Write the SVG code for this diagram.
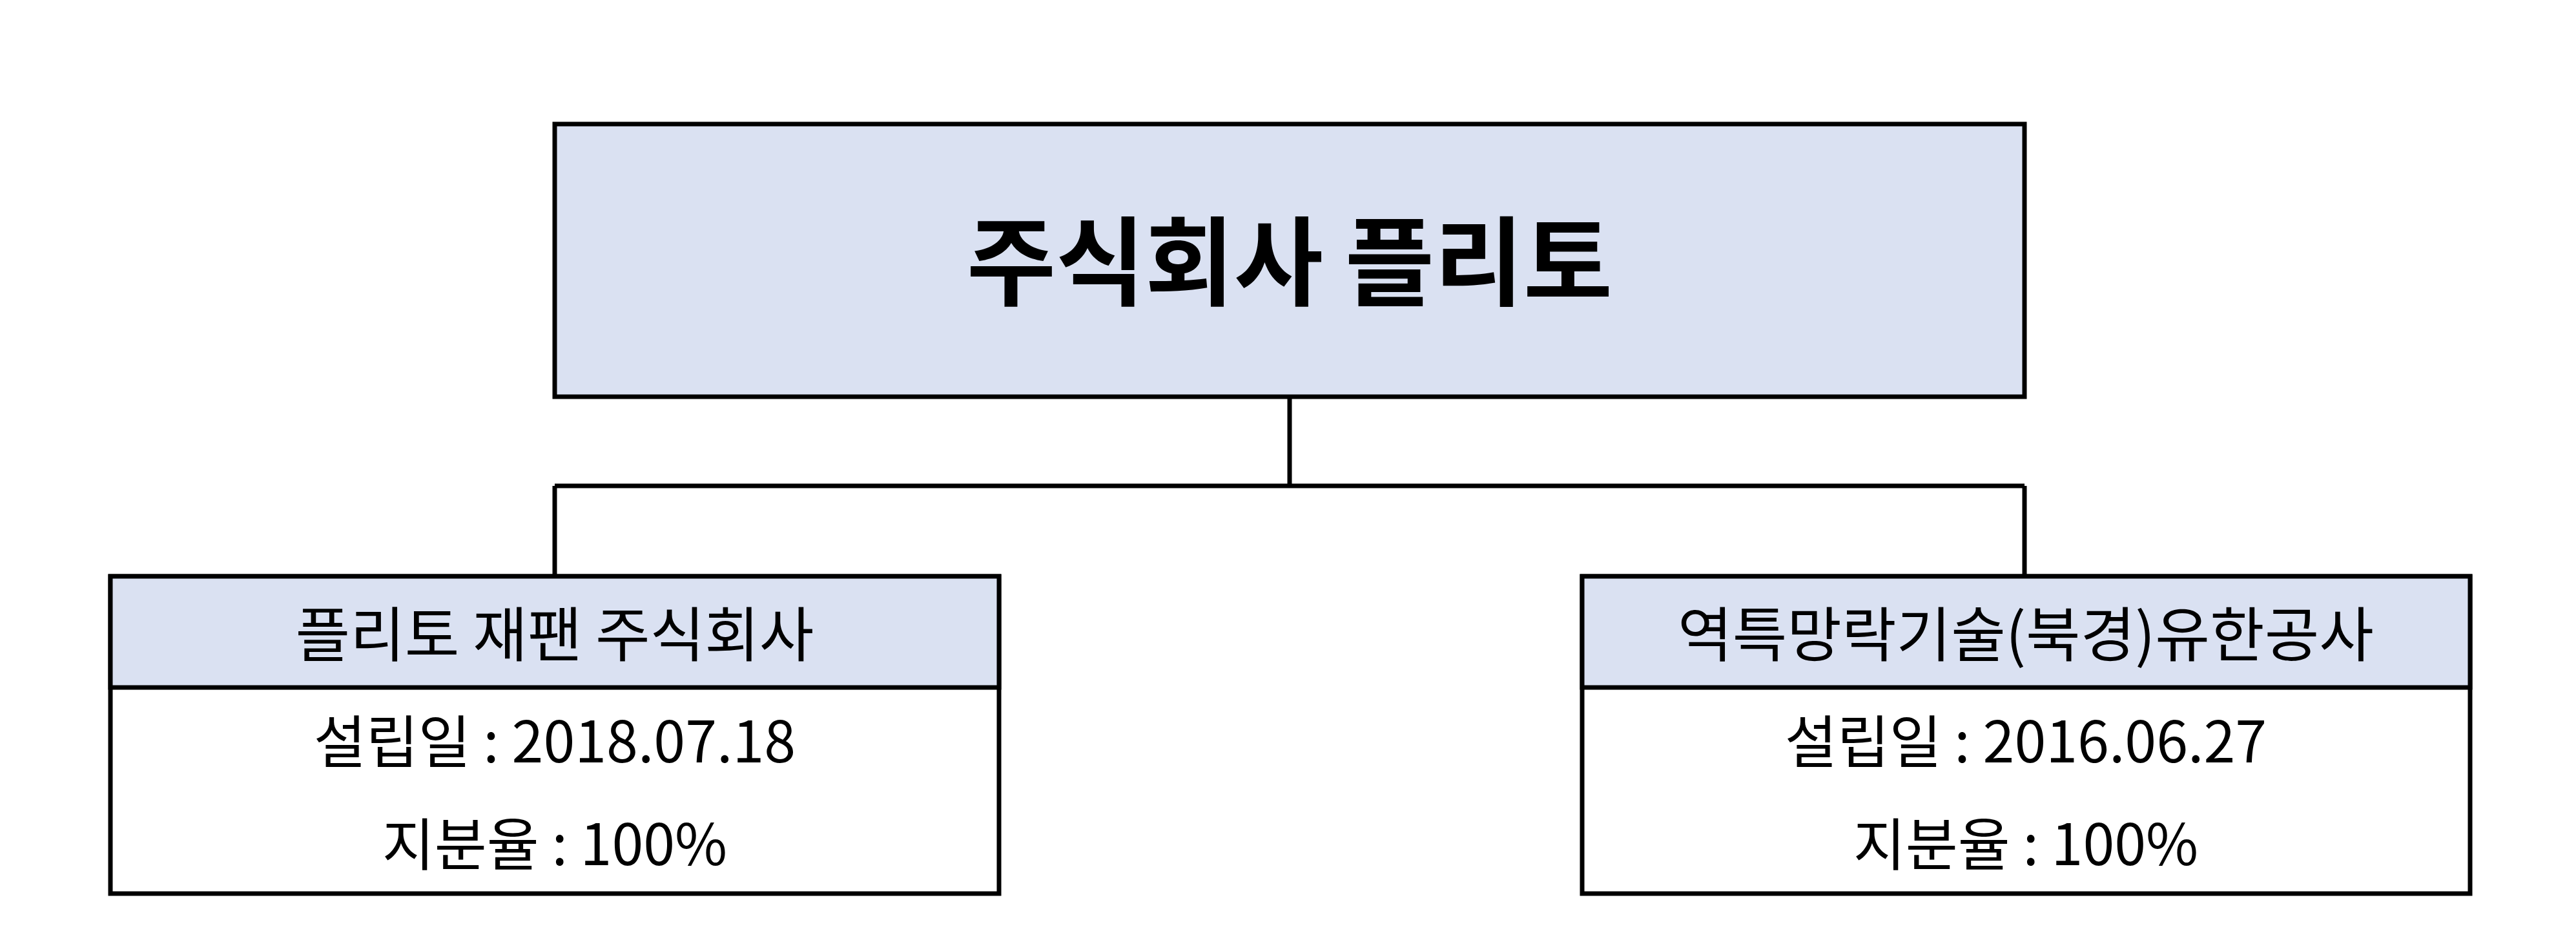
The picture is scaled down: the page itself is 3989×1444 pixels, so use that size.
<svg xmlns="http://www.w3.org/2000/svg" width="3989" height="1444" viewBox="0 0 3989 1444">
<style>
.box{fill:#dae1f2;stroke:#000;stroke-width:7}
.body{fill:#fff;stroke:#000;stroke-width:7}
.conn{fill:none;stroke:#000;stroke-width:7}
text{font-family:"Noto Sans CJK KR","Noto Sans",sans-serif;text-anchor:middle;dominant-baseline:central;fill:#000}
.t{font-size:150px;font-weight:bold}
.h{font-size:92px}
.b{font-size:88px}
</style>
<rect width="3989" height="1444" fill="#fff"/>
<g id="connectors">
<path class="conn" d="M1997 614V752M859 752H3135M859 752V892M3135 752V892"/>
</g>
<g id="root">
<rect class="box" x="859" y="192" width="2276" height="422"/>
<text class="t" x="1997" y="395">주식회사 플리토</text>
</g>
<g id="left">
<rect class="body" x="171" y="892" width="1376" height="491"/>
<rect class="box" x="171" y="892" width="1376" height="172"/>
<text class="h" x="859" y="975">플리토 재팬 주식회사</text>
<text class="b" x="859" y="1141">설립일 : 2018.07.18</text>
<text class="b" x="859" y="1300">지분율 : 100%</text>
</g>
<g id="right">
<rect class="body" x="2450" y="892" width="1375" height="491"/>
<rect class="box" x="2450" y="892" width="1375" height="172"/>
<text class="h" x="3137" y="975">역특망락기술(북경)유한공사</text>
<text class="b" x="3137" y="1141">설립일 : 2016.06.27</text>
<text class="b" x="3137" y="1300">지분율 : 100%</text>
</g>
</svg>
